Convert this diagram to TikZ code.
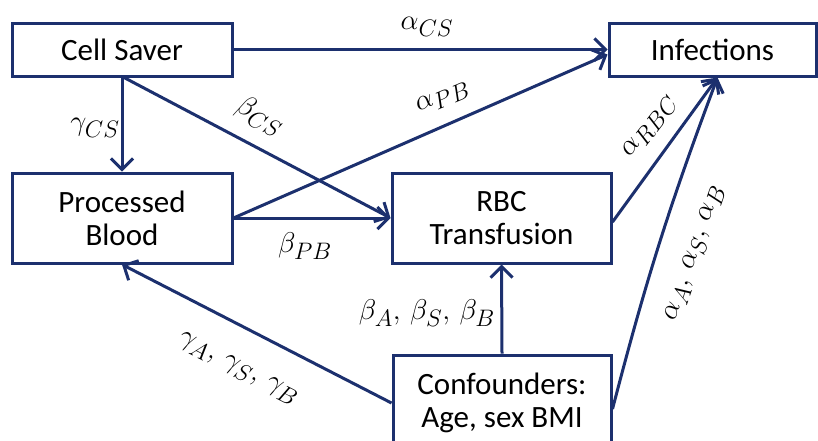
\documentclass[tikz,border=0pt]{standalone}
\usepackage{fontspec}
\setmainfont{Carlito}
\usetikzlibrary{arrows.meta}
\definecolor{navy}{RGB}{28,48,110}
\begin{document}
\begin{tikzpicture}[x=1pt,y=-1pt,
  box/.style={draw=navy,line width=3pt,inner sep=0pt,align=center,
    font=\fontsize{31}{35}\selectfont},
  conn/.style={navy,line width=3pt,-{Straight Barb[length=11pt,width=22pt,line width=3pt]}},
  lbl/.style={inner sep=0pt,scale=1.15,font=\fontsize{24.88}{30}\selectfont}]
\path[use as bounding box,clip] (0,0) rectangle (818,440);
\node[box,minimum width=220pt,minimum height=53pt] (cs) at (122,49.5) {Cell Saver};
\node[box,minimum width=207pt,minimum height=53pt] (inf) at (712.5,49.5) {Infections};
\node[box,minimum width=220pt,minimum height=90pt] (pb) at (122,218) {Processed\\[-2pt]Blood};
\node[box,minimum width=219pt,minimum height=90pt] (rbc) at (501.5,218) {RBC\\[-2pt]Transfusion};
\node[box,minimum width=218pt,minimum height=96pt] (conf) at (502,403) {Confounders:\\[-2pt]Age, sex BMI};
\draw[conn] (cs.east) -- (inf.west);
\draw[conn] (cs.south) -- (pb.north);
\draw[conn] ([xshift=2pt]cs.south) -- (rbc.west);
\draw[conn] (pb.east) -- (rbc.west);
\draw[conn] (pb.east) -- ([yshift=-5pt]inf.west);
\draw[conn] ([yshift=-4pt]rbc.east) -- ([xshift=5pt]inf.south);
\draw[conn] ([yshift=-6pt]conf.east) to[bend left=3] ([xshift=5pt]inf.south);
\draw[conn] (conf.north) -- (rbc.south);
\draw[conn] (conf.west) -- (pb.south);
\node[lbl] (l1) at (427,27) {$\alpha_{CS}$};
\node[lbl] (l2) at (95,128) {$\gamma_{CS}$};
\node[lbl,rotate=-28] (l3) at (260,116) {$\beta_{CS}$};
\node[lbl,rotate=23] (l4) at (443,98) {$\alpha_{PB}$};
\node[lbl] (l5) at (305,246) {$\beta_{PB}$};
\node[lbl,rotate=52] (l6) at (650,127) {$\alpha_{RBC}$};
\node[lbl,rotate=71] (l7) at (695,253) {$\alpha_A,\,\alpha_S,\,\alpha_B$};
\node[lbl] (l8) at (427,313) {$\beta_A,\,\beta_S,\,\beta_B$};
\node[lbl,rotate=-27] (l9) at (238,369) {$\gamma_A,\,\gamma_S,\,\gamma_B$};
\end{tikzpicture}
\end{document}
